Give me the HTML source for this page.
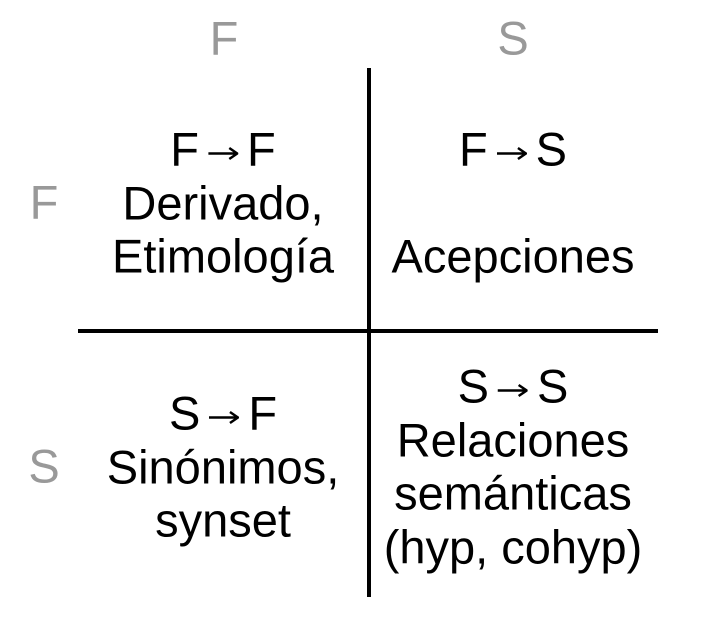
<!DOCTYPE html>
<html><head><meta charset="utf-8"><style>
html,body{margin:0;padding:0;background:#fff;width:701px;height:618px;overflow:hidden;position:relative}
.t{position:absolute;font-family:"Liberation Sans",sans-serif;font-size:47px;line-height:1;color:#000;transform:translate(-50%,-50%);white-space:nowrap}
.g{color:#999}
.a{display:inline-block;width:30px;height:14px;margin:0 9px;vertical-align:5px}
.l{position:absolute;background:#000}
</style></head><body>
<div class="l" style="left:367px;top:68px;width:4px;height:529px"></div>
<div class="l" style="left:78px;top:329px;width:580px;height:4px"></div>
<div class="t g" style="left:224px;top:38px">F</div>
<div class="t g" style="left:513px;top:38px">S</div>
<div class="t g" style="left:44px;top:202px">F</div>
<div class="t g" style="left:44px;top:466px">S</div>
<div class="t" style="left:223px;top:149px">F<svg class="a" viewBox="0 0 30 14"><path d="M0 7H28M21 1.5L29 7L21 12.5" stroke="#000" stroke-width="2.5" fill="none"/></svg>F</div>
<div class="t" style="left:223px;top:203px">Derivado,</div>
<div class="t" style="left:223px;top:256px">Etimología</div>
<div class="t" style="left:513px;top:149px">F<svg class="a" viewBox="0 0 30 14"><path d="M0 7H28M21 1.5L29 7L21 12.5" stroke="#000" stroke-width="2.5" fill="none"/></svg>S</div>
<div class="t" style="left:513px;top:256px">Acepciones</div>
<div class="t" style="left:223px;top:413px">S<svg class="a" viewBox="0 0 30 14"><path d="M0 7H28M21 1.5L29 7L21 12.5" stroke="#000" stroke-width="2.5" fill="none"/></svg>F</div>
<div class="t" style="left:223px;top:467px">Sinónimos,</div>
<div class="t" style="left:223px;top:520px">synset</div>
<div class="t" style="left:513px;top:386px">S<svg class="a" viewBox="0 0 30 14"><path d="M0 7H28M21 1.5L29 7L21 12.5" stroke="#000" stroke-width="2.5" fill="none"/></svg>S</div>
<div class="t" style="left:513px;top:440px">Relaciones</div>
<div class="t" style="left:513px;top:493px">semánticas</div>
<div class="t" style="left:513px;top:547px">(hyp, cohyp)</div>
</body></html>
